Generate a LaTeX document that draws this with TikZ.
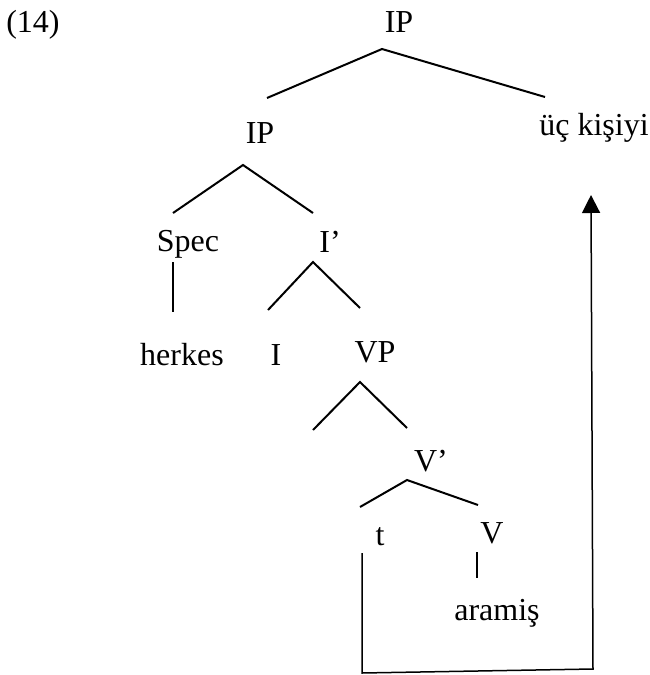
\documentclass[tikz,border=0pt]{standalone}
\usepackage{fontspec}
\setmainfont{Liberation Serif}
\usetikzlibrary{arrows.meta}

\begin{document}
\begin{tikzpicture}[x=1pt,y=-1pt,font=\fontsize{32}{36}\selectfont,
    lab/.style={inner sep=0pt,anchor=base},
    branch/.style={line width=2pt},
    move/.style={line width=1.5pt,-{Triangle[length=18pt,width=18pt]}}]
    \useasboundingbox (0,0) rectangle (650,675);
    \node[lab] (ex) at (33,32) {(14)};
    \node[lab] (ip0) at (399,32) {IP};
    \node[lab] (ip1) at (260,143) {IP};
    \node[lab] (obj) at (594,135) {üç kişiyi};
    \node[lab] (spec) at (188,251) {Spec};
    \node[lab] (ibar) at (330,252) {I’};
    \node[lab] (herkes) at (182,365) {herkes};
    \node[lab] (infl) at (276,365) {I};
    \node[lab] (vp) at (375,362) {VP};
    \coordinate (vpspec) at (313,430);
    \node[lab] (vbar) at (431,471) {V’};
    \node[lab] (tr) at (380,545) {t};
    \node[lab] (verb) at (492,543) {V};
    \node[lab] (aramis) at (497,620) {aramiş};
    \draw[branch] ([xshift=7,yshift=45]ip1.base) -- ([xshift=-17,yshift=-17]ip0.base) -- ([xshift=-49,yshift=38]obj.base);
    \draw[branch] ([xshift=-15,yshift=38]spec.base) -- ([xshift=-17,yshift=-22]ip1.base) -- ([xshift=-17,yshift=39]ibar.base);
    \draw[branch] ([xshift=-15,yshift=-11]spec.base) -- ([xshift=-9,yshift=53]herkes.base);
    \draw[branch] ([xshift=-8,yshift=55]infl.base) -- ([xshift=-17,yshift=-10]ibar.base) -- ([xshift=-15,yshift=54]vp.base);
    \draw[branch] (vpspec) -- ([xshift=-15,yshift=-20]vp.base) -- ([xshift=-24,yshift=43]vbar.base);
    \draw[branch] ([xshift=-20,yshift=38]tr.base) -- ([xshift=-24,yshift=-9]vbar.base) -- ([xshift=-14,yshift=38]verb.base);
    \draw[branch] ([xshift=-15,yshift=-9]verb.base) -- ([xshift=-20,yshift=42]aramis.base);
    \draw[move] ([xshift=-18,yshift=-8]tr.base) -- ++(0,120) -- ++(231,-4) -- ([xshift=-3,yshift=-60]obj.base);
\end{tikzpicture}
\end{document}
